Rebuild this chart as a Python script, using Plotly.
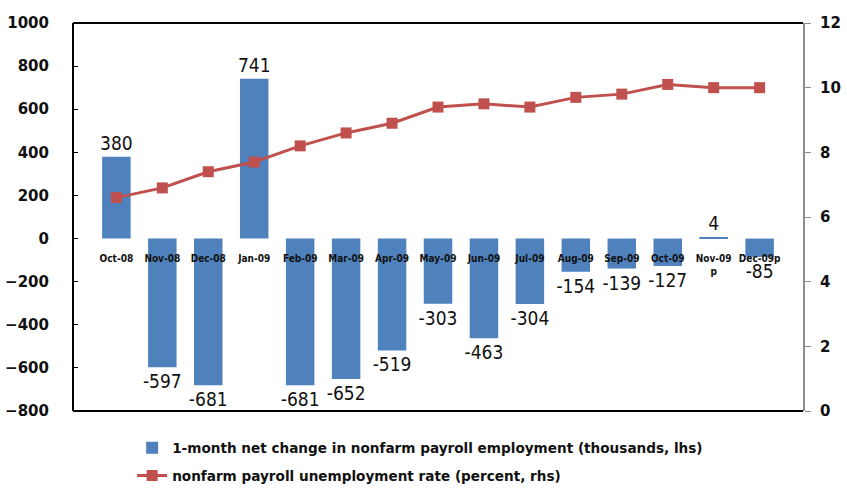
import plotly.graph_objects as go

categories = ["Oct-08", "Nov-08", "Dec-08", "Jan-09", "Feb-09", "Mar-09", "Apr-09",
              "May-09", "Jun-09", "Jul-09", "Aug-09", "Sep-09", "Oct-09", "Nov-09<br>p", "Dec-09p"]
payroll_change = [380, -597, -681, 741, -681, -652, -519, -303, -463, -304, -154, -139, -127, 4, -85]
unemployment_rate = [6.6, 6.9, 7.4, 7.7, 8.2, 8.6, 8.9, 9.4, 9.5, 9.4, 9.7, 9.8, 10.1, 10.0, 10.0]

left_ticks = [-800, -600, -400, -200, 0, 200, 400, 600, 800, 1000]
right_ticks = [0, 2, 4, 6, 8, 10, 12]

YMIN, YMAX = -800, 1000
FONT = "DejaVu Sans, sans-serif"
LABEL_FONT = "DejaVu Sans Condensed, DejaVu Sans, sans-serif"

fig = go.Figure()
fig.add_trace(go.Bar(
    x=categories, y=payroll_change,
    name="1-month net change in nonfarm payroll employment (thousands, lhs)",
    legendgroup="a",
    marker=dict(color="#4F81BD", line=dict(width=0)),
    text=[str(v) for v in payroll_change], textposition="outside",
    textfont=dict(family=LABEL_FONT, size=19, color="#111"),
    constraintext="none",
    cliponaxis=False, yaxis="y",
))
fig.add_trace(go.Scatter(
    x=categories, y=unemployment_rate, yaxis="y2",
    name="nonfarm payroll unemployment rate (percent, rhs)",
    legendgroup="b",
    mode="lines+markers",
    line=dict(color="#C0504D", width=3),
    marker=dict(symbol="square", size=11, color="#C0504D"),
))

zero_frac = (0 - YMIN) / (YMAX - YMIN)

fig.update_layout(
    width=847, height=488,
    margin=dict(l=73, r=44, t=23, b=77, autoexpand=False),
    paper_bgcolor="white", plot_bgcolor="white",
    bargap=0.38,
    showlegend=True,
    legend=dict(orientation="v", xref="container", yref="container",
                x=0.156, xanchor="left", y=0.114, yanchor="top",
                font=dict(family=FONT, size=13.6, color="#111", weight="bold"),
                tracegroupgap=7, itemwidth=30),
    xaxis=dict(anchor="free", position=zero_frac, showline=False, ticks="",
               showgrid=False, zeroline=False, automargin=False,
               tickfont=dict(family=LABEL_FONT, size=10, color="#111", weight="bold"),
               tickangle=0, domain=[0, 1], ticklabelstandoff=12),
    yaxis=dict(range=[YMIN, YMAX], tickvals=left_ticks, showgrid=False, zeroline=False,
               showline=True, linecolor="black", linewidth=2, ticks="inside", ticklen=4,
               tickcolor="black", automargin=False,
               tickfont=dict(family=FONT, size=15, color="#111", weight="bold"),
               anchor="free", position=0, ticklabelstandoff=20),
    yaxis2=dict(range=[0, 12], tickvals=right_ticks, overlaying="y", side="right",
                showgrid=False, zeroline=False, showline=True, linecolor="#8c8c8c",
                linewidth=2, ticks="outside", ticklen=6, tickcolor="#8c8c8c",
                automargin=False,
                tickfont=dict(family=FONT, size=15, color="#111", weight="bold"),
                anchor="x", ticklabelstandoff=6),
    shapes=[
        dict(type="line", xref="paper", yref="paper", x0=0, x1=1, y0=1, y1=1,
             line=dict(color="black", width=2)),
        dict(type="line", xref="paper", yref="paper", x0=0, x1=1, y0=0, y1=0,
             line=dict(color="black", width=2)),
    ],
)

fig.write_html("out.html", config={"displayModeBar": False},
               post_script="document.body.style.margin='0px';document.body.style.overflow='hidden';")
